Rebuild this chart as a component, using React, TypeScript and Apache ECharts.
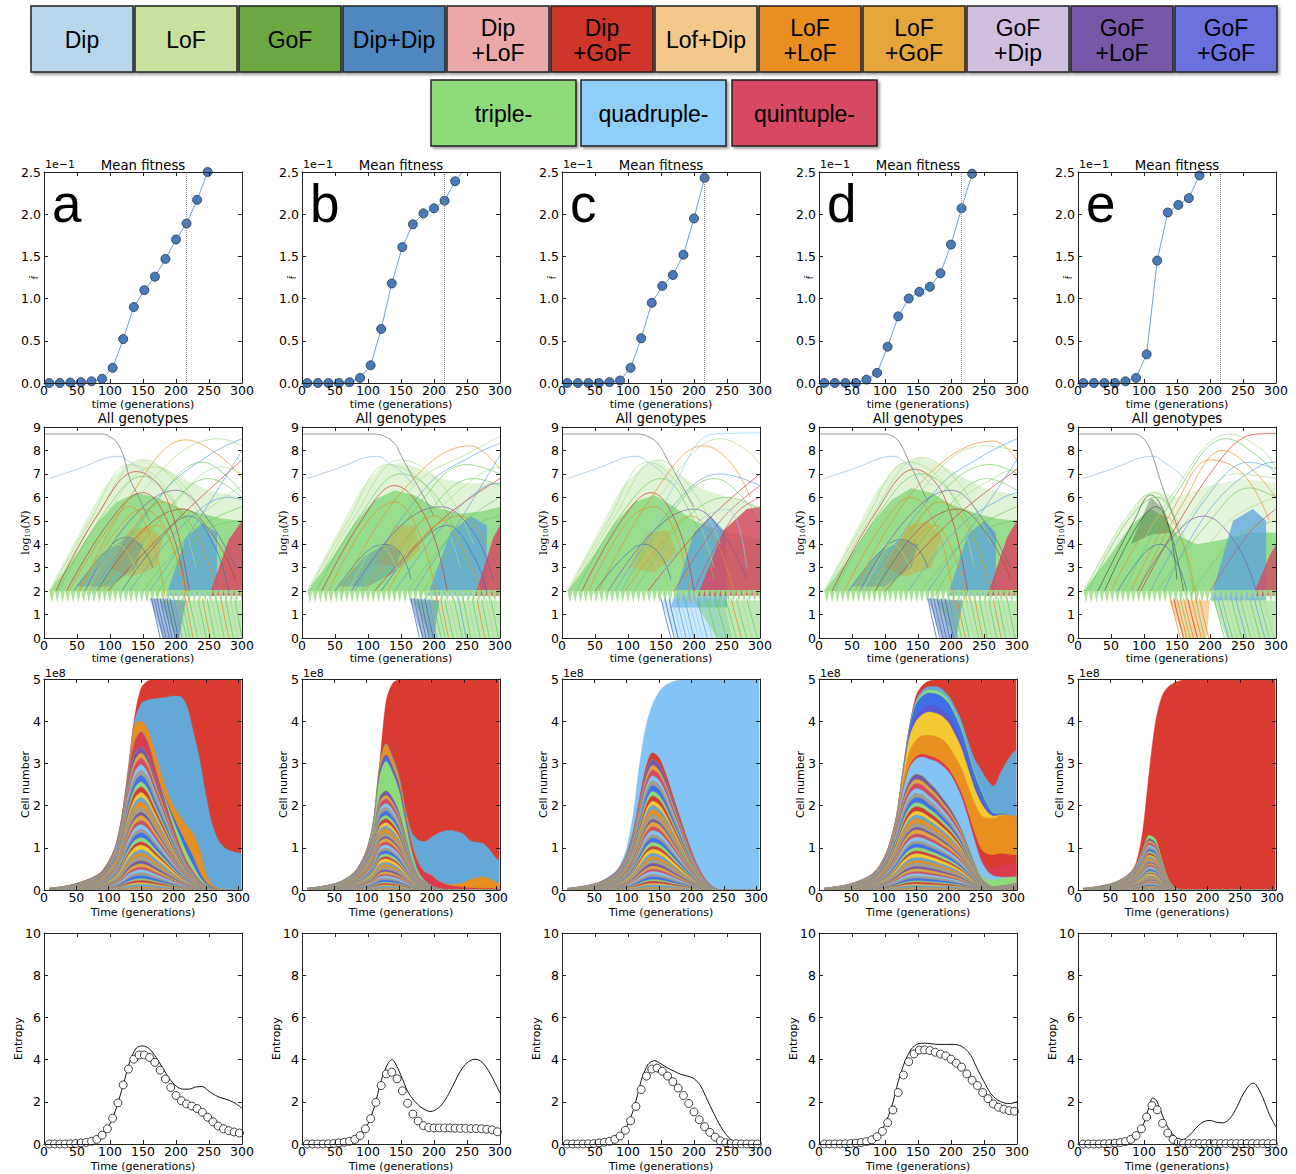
import React, { useEffect, useRef } from 'react';
import * as echarts from 'echarts';

// ---------------- legend ----------------
const LEGEND_LABELS = ['Dip', 'LoF', 'GoF', 'Dip+Dip', 'Dip\n+LoF', 'Dip\n+GoF', 'Lof+Dip', 'LoF\n+LoF', 'LoF\n+GoF', 'GoF\n+Dip', 'GoF\n+LoF', 'GoF\n+GoF', 'triple-', 'quadruple-', 'quintuple-'];
const LEGEND_COLORS = ['#b9d6ea', '#c9e19e', '#6ca843', '#5088c0', '#eaa9a8', '#d0352c', '#f3c98b', '#e98f24', '#e4a53b', '#cfc0e0', '#7758a8', '#6b71dd', '#8edb7b', '#8fcef9', '#d74a64'];

const PANEL_LETTERS = ['a', 'b', 'c', 'd', 'e'];

// ---------------- row 1 : mean fitness (x1e-1) ----------------
const FIT_T = [8, 24, 40, 56, 72, 88, 104, 120, 136, 152, 168, 184, 200, 216, 232, 248];
const FIT_A = [0, 0, 0.005, 0.01, 0.02, 0.05, 0.18, 0.52, 0.9, 1.1, 1.26, 1.47, 1.7, 1.89, 2.17, 2.5];
const FIT_B = [0, 0, 0, 0, 0.01, 0.06, 0.21, 0.64, 1.18, 1.61, 1.88, 2.01, 2.07, 2.16, 2.39, 2.55];
const FIT_C = [0, 0, 0, 0, 0.01, 0.03, 0.18, 0.53, 0.95, 1.15, 1.28, 1.52, 1.95, 2.43, 2.9];
const FIT_D = [0, 0, 0, 0, 0.04, 0.12, 0.43, 0.79, 1.0, 1.08, 1.14, 1.3, 1.64, 2.07, 2.48, 2.9];
const FIT_E = [0, 0, 0, 0, 0.02, 0.06, 0.34, 1.45, 2.02, 2.11, 2.19, 2.46, 2.8];
const FIT_MARK_T = 216;

// ---------------- row 2 : all genotypes (log10 N) ----------------
const GRAY_A = [[0, 8.7], [90, 8.7], [100, 8.58], [110, 8.36], [120, 7.8], [130, 6.8], [140, 6.2], [160, 5.0]];
const GRAY_B = [[0, 8.7], [110, 8.7], [125, 8.6], [140, 8.3], [150, 7.8], [165, 7.0], [185, 6.0], [200, 5.2]];
const GRAY_C = [[0, 8.7], [115, 8.7], [130, 8.6], [145, 8.3], [160, 7.6], [180, 6.6], [200, 5.6]];
const GRAY_D = [[0, 8.7], [100, 8.7], [115, 8.55], [125, 8.2], [135, 7.6], [150, 6.7], [165, 5.8]];
const GRAY_E = [[0, 8.7], [85, 8.7], [95, 8.6], [105, 8.3], [115, 7.6], [125, 6.7], [135, 5.9], [150, 4.8]];
const PALE_BLUE_LINE = [[8, 6.8], [60, 7.3], [100, 7.72], [115, 7.75], [130, 7.5], [150, 7.1], [170, 6.5]];

const TEETH_T = [8, 16, 24, 32, 40, 48, 56, 64, 72, 80, 88, 96, 104, 112, 120, 128, 136, 144, 152, 160, 168, 176, 184, 192, 200, 208, 216, 224, 232, 240, 248, 256, 264, 272, 280, 288, 296];
const TOOTH_TOP = 2.05;
const TOOTH_TIP = 1.5;

// [colour, alpha, polygon]
const MASS_A = [
  ['g', 0.7, [[8, 2.0], [40, 3.2], [80, 4.9], [110, 5.8], [140, 6.2], [170, 6.0], [200, 5.6], [240, 5.3], [270, 5.1], [300, 5.0], [300, 2.0]]],
  ['lg', 0.35, [[8, 2.1], [50, 4.3], [90, 6.4], [120, 7.3], [150, 7.6], [180, 7.3], [210, 6.8], [250, 6.3], [300, 6.0], [300, 5.0], [270, 5.1], [240, 5.3], [200, 5.6], [170, 6.0], [140, 6.2], [110, 5.8], [80, 4.9], [40, 3.2], [8, 2.0]]],
  ['or', 0.35, [[100, 3.0], [130, 4.6], [160, 4.8], [180, 4.2], [170, 3.0], [130, 2.6]]],
  ['db', 0.3, [[50, 2.2], [90, 3.6], [125, 4.3], [150, 4.0], [140, 3.0], [100, 2.2]]],
  ['bl', 0.75, [[185, 1.8], [215, 4.3], [240, 4.9], [262, 4.5], [262, 1.8]]],
  ['cr', 0.85, [[250, 1.8], [280, 4.2], [300, 5.0], [300, 1.8]]],
  ['g', 0.45, [[175, 1.6], [300, 1.6], [300, 0], [200, 0]]],
  ['db', 0.45, [[160, 1.7], [215, 1.6], [205, 0], [180, 0]]],
];
const MASS_B = [
  ['g', 0.7, [[8, 2.0], [40, 3.2], [80, 4.9], [110, 5.9], [140, 6.3], [170, 6.1], [200, 5.6], [240, 5.3], [270, 5.4], [300, 5.6], [300, 2.0]]],
  ['lg', 0.35, [[8, 2.1], [50, 4.3], [90, 6.4], [120, 7.3], [150, 7.5], [180, 7.2], [210, 6.8], [250, 6.6], [300, 6.6], [300, 5.6], [270, 5.4], [240, 5.3], [200, 5.6], [170, 6.1], [140, 6.3], [110, 5.9], [80, 4.9], [40, 3.2], [8, 2.0]]],
  ['or', 0.3, [[110, 3.2], [140, 4.8], [170, 4.8], [180, 3.8], [150, 3.0]]],
  ['db', 0.3, [[55, 2.2], [95, 3.5], [125, 4.0], [150, 3.7], [140, 2.8], [100, 2.2]]],
  ['bl', 0.75, [[190, 1.8], [225, 4.5], [255, 5.2], [280, 4.8], [280, 1.8]]],
  ['cr', 0.85, [[262, 1.8], [290, 4.3], [300, 4.8], [300, 1.8]]],
  ['g', 0.45, [[170, 1.6], [300, 1.6], [300, 0], [195, 0]]],
  ['db', 0.45, [[163, 1.7], [208, 1.6], [200, 0], [182, 0]]],
];
const MASS_C = [
  ['g', 0.7, [[8, 2.0], [40, 3.2], [80, 4.9], [110, 5.8], [140, 6.1], [170, 5.6], [200, 5.0], [240, 4.6], [300, 4.2], [300, 2.0]]],
  ['lg', 0.35, [[8, 2.1], [50, 4.3], [90, 6.4], [120, 7.3], [145, 7.6], [175, 7.0], [210, 6.4], [250, 6.0], [300, 5.6], [300, 4.2], [240, 4.6], [200, 5.0], [170, 5.6], [140, 6.1], [110, 5.8], [80, 4.9], [40, 3.2], [8, 2.0]]],
  ['or', 0.3, [[100, 3.0], [130, 4.5], [160, 4.6], [175, 3.6], [140, 2.8]]],
  ['bl', 0.75, [[165, 1.3], [200, 4.5], [225, 5.2], [248, 4.5], [250, 1.3]]],
  ['cr', 0.85, [[205, 1.8], [245, 4.6], [280, 5.5], [300, 5.6], [300, 1.8]]],
  ['sky', 0.45, [[150, 1.6], [245, 1.6], [258, 0], [172, 0]]],
  ['g', 0.45, [[200, 1.6], [300, 1.6], [300, 0], [235, 0]]],
];
const MASS_D = [
  ['g', 0.7, [[8, 2.0], [40, 3.2], [80, 4.9], [110, 5.9], [140, 6.4], [170, 6.2], [200, 5.7], [240, 5.3], [270, 5.1], [300, 5.0], [300, 2.0]]],
  ['lg', 0.35, [[8, 2.1], [50, 4.3], [90, 6.4], [120, 7.4], [155, 7.7], [185, 7.4], [215, 6.9], [250, 6.4], [300, 6.1], [300, 5.0], [270, 5.1], [240, 5.3], [200, 5.7], [170, 6.2], [140, 6.4], [110, 5.9], [80, 4.9], [40, 3.2], [8, 2.0]]],
  ['or', 0.35, [[100, 3.0], [135, 4.8], [165, 5.0], [185, 4.3], [170, 3.0], [130, 2.6]]],
  ['db', 0.3, [[50, 2.2], [90, 3.6], [125, 4.2], [150, 4.0], [140, 3.0], [100, 2.2]]],
  ['bl', 0.75, [[195, 1.8], [225, 4.4], [250, 5.0], [268, 4.5], [268, 1.8]]],
  ['cr', 0.85, [[255, 1.8], [285, 4.3], [300, 5.0], [300, 1.8]]],
  ['g', 0.45, [[178, 1.6], [300, 1.6], [300, 0], [205, 0]]],
  ['db', 0.45, [[165, 1.7], [218, 1.6], [208, 0], [185, 0]]],
];
const MASS_E = [
  ['g', 0.7, [[8, 2.0], [40, 3.2], [80, 4.8], [110, 5.5], [130, 5.2], [150, 4.4], [180, 4.0], [220, 4.2], [260, 4.5], [300, 4.5], [300, 2.0]]],
  ['lg', 0.3, [[8, 2.1], [60, 4.6], [100, 6.1], [120, 6.3], [150, 6.0], [200, 6.5], [250, 6.8], [300, 6.6], [300, 4.5], [260, 4.5], [220, 4.2], [180, 4.0], [150, 4.4], [130, 5.2], [110, 5.5], [80, 4.8], [40, 3.2], [8, 2.0]]],
  ['dk', 0.35, [[80, 4.0], [110, 6.0], [130, 5.5], [140, 4.5], [110, 4.4]]],
  ['bl', 0.75, [[200, 1.6], [235, 5.0], [265, 5.5], [285, 5.0], [285, 1.6]]],
  ['cr', 0.8, [[265, 1.8], [290, 3.5], [300, 4.0], [300, 1.8]]],
  ['or', 0.4, [[138, 1.6], [200, 1.6], [195, 0], [160, 0]]],
  ['g', 0.45, [[205, 1.6], [300, 1.6], [300, 0], [225, 0]]],
];

// extinction fans: [colour, t at log N = 1.7, t at log N = 0]
const FAN_A = [['db', 163, 176], ['db', 167, 181], ['db', 171, 185], ['db', 176, 190], ['db', 181, 194], ['db', 186, 199], ['db', 191, 204], ['bl', 197, 209], ['g', 203, 216], ['g', 209, 221], ['or', 214, 226], ['g', 220, 233], ['lg', 226, 240], ['g', 233, 246], ['or', 240, 252], ['g', 247, 259], ['lg', 254, 266], ['g', 261, 273], ['or', 268, 280], ['g', 275, 287], ['lg', 282, 294], ['g', 289, 300]];
const FAN_B = [['db', 165, 178], ['db', 170, 183], ['db', 175, 188], ['db', 180, 193], ['db', 186, 199], ['bl', 192, 204], ['g', 198, 211], ['g', 204, 217], ['or', 210, 222], ['g', 216, 229], ['lg', 223, 236], ['g', 230, 243], ['bl', 237, 249], ['g', 244, 256], ['lg', 251, 263], ['g', 258, 270], ['or', 265, 277], ['g', 272, 284], ['lg', 279, 291], ['g', 286, 298]];
const FAN_C = [['db', 150, 165], ['db', 156, 170], ['db', 162, 176], ['sky', 168, 182], ['bl', 174, 188], ['sky', 180, 194], ['bl', 186, 200], ['sky', 192, 207], ['sky', 198, 213], ['bl', 205, 220], ['sky', 212, 228], ['g', 219, 235], ['sky', 226, 242], ['g', 233, 249], ['lg', 240, 256], ['g', 248, 264], ['or', 256, 272], ['g', 264, 280], ['lg', 272, 288], ['g', 280, 296]];
const FAN_D = [['db', 165, 178], ['db', 169, 183], ['db', 174, 188], ['db', 179, 193], ['db', 185, 198], ['db', 191, 204], ['bl', 197, 210], ['g', 203, 216], ['or', 209, 222], ['g', 215, 228], ['lg', 222, 235], ['g', 229, 242], ['or', 236, 248], ['g', 243, 255], ['lg', 250, 262], ['g', 257, 269], ['or', 264, 276], ['g', 271, 283], ['lg', 278, 290], ['g', 285, 297]];
const FAN_E = [['or', 140, 155], ['dred', 145, 160], ['or', 150, 165], ['g', 155, 170], ['or', 160, 175], ['dred', 166, 181], ['or', 172, 187], ['g', 178, 192], ['or', 184, 198], ['g', 206, 222], ['bl', 212, 228], ['g', 218, 234], ['lg', 225, 241], ['g', 232, 248], ['bl', 239, 255], ['g', 246, 262], ['lg', 253, 269], ['g', 260, 276], ['bl', 267, 283], ['g', 274, 290], ['lg', 281, 297]];

// [colour, t0, v0, t1, v1, ...]
const ARCS_A = [
  ['lg', 10, 2, 70, 5.0, 130, 7.4, 190, 6.2, 230, 3],
  ['lg', 14, 2, 80, 5.2, 150, 7.6, 210, 6.3, 260, 4],
  ['red', 18, 2, 80, 5.2, 140, 7.1, 185, 6.0, 220, 2],
  ['g', 22, 2, 90, 5.3, 150, 6.9, 200, 5.6, 240, 3],
  ['lg', 28, 2, 100, 5.5, 165, 7.3, 220, 6.2, 260, 4],
  ['red', 34, 2, 100, 5.0, 150, 6.2, 190, 4.8, 215, 2],
  ['or', 38, 2, 90, 4.4, 130, 5.6, 165, 4.0, 185, 1.5],
  ['db', 45, 2, 90, 3.6, 125, 4.3, 150, 3.8, 165, 3.0],
  ['or', 52, 2, 110, 4.6, 150, 5.5, 190, 4.3, 215, 1.5],
  ['or', 55, 2, 130, 6.0, 215, 8.45, 265, 7.8, 300, 6.8],
  ['pu', 62, 2, 130, 5.0, 200, 6.3, 250, 5.0, 290, 3],
  ['lg', 66, 2, 160, 6.6, 265, 8.5, 300, 8.2],
  ['bl', 74, 2, 180, 6.2, 250, 7.8, 300, 8.5],
  ['g', 84, 2, 170, 5.8, 240, 7.5, 300, 6.2],
  ['red', 96, 2, 200, 5.0, 300, 7.6],
  ['or', 70, 2, 130, 4.5, 180, 5.8, 230, 4.5, 260, 2],
  ['dred', 80, 2, 150, 4.6, 210, 5.5, 260, 4.2, 290, 2.5],
  ['g', 100, 2, 180, 5.2, 250, 6.8, 300, 6],
  ['lg', 112, 2, 190, 5.4, 270, 7.3, 300, 7],
  ['bl', 130, 2, 210, 4.8, 280, 6.0, 300, 5.9],
  ['g', 150, 2, 230, 4.6, 300, 5.6],
  ['db', 118, 2, 170, 4.0, 220, 5.2, 260, 3.8, 280, 2],
  ['lg', 40, 2, 80, 3.6, 110, 4.0, 135, 3.2, 150, 2],
  ['or', 90, 2, 130, 3.8, 170, 4.8, 200, 3.5, 220, 1.5],
  ['lg', 140, 2, 220, 4.8, 300, 6.5],
  ['bl', 160, 2, 240, 5.3, 300, 8.0],
  ['g', 170, 1.8, 240, 4.5, 300, 5.0],
];
const ARCS_B = [
  ['lg', 10, 2, 70, 5.0, 130, 7.4, 190, 6.4, 240, 3],
  ['lg', 16, 2, 80, 5.2, 150, 7.6, 210, 6.6, 260, 4],
  ['g', 22, 2, 90, 5.3, 150, 7.0, 210, 5.8, 250, 3],
  ['red', 30, 2, 90, 5.0, 140, 6.5, 190, 5.0, 220, 2],
  ['or', 40, 2, 100, 5.0, 140, 5.8, 180, 4.3, 205, 1.5],
  ['db', 50, 2, 95, 3.6, 125, 4.0, 150, 3.6, 165, 2.5],
  ['or', 60, 2, 150, 6.2, 255, 8.2, 300, 7.2],
  ['lg', 70, 2, 170, 6.5, 260, 8.0, 300, 8.6],
  ['bl', 80, 2, 190, 6.5, 260, 7.8, 300, 8.3],
  ['g', 90, 2, 180, 5.8, 250, 7.4, 300, 7.0],
  ['pu', 75, 2, 150, 4.8, 210, 5.6, 260, 4.5, 290, 2.5],
  ['red', 110, 2, 210, 5.0, 300, 6.8],
  ['or', 95, 2, 150, 4.0, 200, 5.2, 240, 4.0, 270, 2],
  ['g', 110, 2, 190, 5.3, 260, 6.8, 300, 6.5],
  ['lg', 125, 2, 200, 5.2, 270, 7.0, 300, 7.3],
  ['bl', 140, 2, 220, 5.0, 280, 6.5, 300, 6.6],
  ['g', 160, 2, 240, 4.8, 300, 6.0],
  ['db', 120, 2, 170, 3.8, 220, 4.8, 260, 3.5, 280, 2],
  ['lg', 45, 2, 85, 3.6, 115, 4.0, 140, 3.2, 155, 2],
  ['bl', 170, 2, 250, 5.5, 300, 7.8],
  ['g', 180, 1.8, 250, 4.6, 300, 5.2],
  ['or', 130, 2, 190, 4.5, 240, 5.2, 280, 4.0],
];
const ARCS_C = [
  ['lg', 10, 2, 70, 5.0, 130, 7.5, 190, 6.0, 230, 3],
  ['lg', 15, 2, 80, 5.2, 145, 7.6, 200, 6.2, 240, 4],
  ['g', 22, 2, 90, 5.3, 150, 6.8, 200, 5.0, 230, 2.5],
  ['red', 30, 2, 90, 5.0, 135, 6.2, 175, 4.8, 200, 2],
  ['or', 40, 2, 100, 5.0, 140, 5.6, 175, 4.2, 195, 1.5],
  ['or', 55, 2, 140, 6.2, 215, 8.2, 255, 7.5, 285, 6],
  ['lg', 65, 2, 160, 6.5, 240, 8.5, 280, 8.0, 300, 7.4],
  ['sky', 90, 2, 170, 6.5, 230, 8.7, 300, 8.75],
  ['bl', 80, 2, 180, 6.0, 240, 7.0, 300, 6.5],
  ['g', 90, 2, 170, 5.5, 230, 6.8, 290, 5.5, 300, 5],
  ['pu', 70, 2, 140, 4.6, 200, 5.5, 250, 4.2, 280, 2.5],
  ['red', 130, 2, 220, 5.0, 300, 7.0],
  ['or', 95, 2, 150, 4.0, 195, 5.2, 235, 4.0, 260, 2],
  ['cr', 170, 2, 240, 5.0, 300, 6.5],
  ['g', 110, 2, 185, 5.0, 250, 6.0, 300, 5.5],
  ['db', 50, 2, 95, 3.5, 125, 4.0, 150, 3.5, 165, 2.5],
  ['lg', 45, 2, 85, 3.6, 115, 4.0, 140, 3.2, 155, 2],
  ['sky', 140, 2, 200, 4.8, 250, 5.5, 280, 3],
  ['cr', 200, 2, 260, 5.2, 300, 6.0],
];
const ARCS_D = [
  ['lg', 10, 2, 70, 5.0, 135, 7.5, 195, 6.4, 235, 3],
  ['lg', 15, 2, 80, 5.2, 155, 7.7, 215, 6.5, 260, 4],
  ['red', 20, 2, 85, 5.3, 145, 7.2, 190, 6.0, 225, 2],
  ['g', 24, 2, 90, 5.3, 155, 7.0, 210, 5.8, 250, 3],
  ['or', 38, 2, 95, 4.8, 140, 6.0, 180, 4.6, 205, 1.5],
  ['db', 45, 2, 90, 3.6, 125, 4.2, 150, 3.8, 165, 3.0],
  ['or', 55, 2, 150, 6.5, 265, 8.4, 300, 7.6],
  ['bl', 70, 2, 180, 6.4, 250, 7.8, 300, 8.5],
  ['lg', 66, 2, 170, 6.8, 250, 8.2, 300, 8.0],
  ['g', 85, 2, 180, 6.0, 260, 7.4, 300, 7.0],
  ['pu', 62, 2, 130, 5.0, 200, 6.3, 250, 5.0, 290, 3],
  ['red', 100, 2, 200, 5.0, 300, 7.2],
  ['or', 75, 2, 135, 4.5, 185, 5.8, 230, 4.5, 260, 2],
  ['dred', 85, 2, 150, 4.6, 210, 5.5, 260, 4.2, 290, 2.5],
  ['g', 105, 2, 185, 5.2, 255, 6.8, 300, 6.3],
  ['lg', 115, 2, 195, 5.4, 275, 7.0, 300, 7.2],
  ['bl', 135, 2, 215, 4.8, 280, 6.0, 300, 6.2],
  ['g', 155, 2, 235, 4.6, 300, 5.6],
  ['lg', 40, 2, 80, 3.6, 110, 4.0, 135, 3.2, 150, 2],
  ['or', 95, 2, 135, 3.8, 175, 4.8, 205, 3.5, 225, 1.5],
  ['bl', 165, 2, 245, 5.3, 300, 7.6],
  ['g', 175, 1.8, 245, 4.5, 300, 5.0],
];
const ARCS_E = [
  ['lg', 10, 2, 70, 5.0, 115, 6.2, 150, 5.0, 180, 2.5],
  ['g', 16, 2, 75, 5.0, 120, 6.0, 150, 4.8, 175, 2],
  ['dk', 30, 2, 85, 5.0, 110, 6.1, 135, 5.0, 150, 2.5],
  ['dk', 40, 2, 90, 4.8, 118, 5.6, 140, 4.5, 160, 2],
  ['or', 50, 2, 100, 4.5, 130, 5.2, 160, 4.0, 180, 1.5],
  ['lg', 60, 2, 140, 6.0, 230, 8.7, 280, 8.0, 300, 7.2],
  ['g', 70, 2, 150, 6.2, 225, 8.5, 270, 7.8, 300, 7.0],
  ['or', 80, 2, 150, 5.8, 200, 7.6, 250, 7.0, 290, 5],
  ['or', 90, 2, 160, 5.8, 220, 8.0, 260, 7.3, 300, 6],
  ['red', 95, 2, 200, 7.0, 270, 8.7, 300, 8.72],
  ['bl', 110, 2, 190, 5.8, 260, 7.5, 300, 7.2],
  ['bl', 130, 2, 200, 5.5, 280, 7.4, 300, 7.5],
  ['lg', 100, 2, 170, 5.2, 240, 7.0, 300, 6.8],
  ['g', 120, 2, 200, 5.0, 260, 6.4, 300, 6.0],
  ['pu', 90, 2, 140, 4.2, 190, 5.2, 240, 4.0, 270, 2],
  ['db', 60, 2, 100, 3.6, 125, 4.0, 150, 3.2, 165, 2],
  ['lg', 150, 2, 230, 5.0, 300, 6.0],
  ['cr', 200, 2, 260, 4.5, 300, 5.5],
  ['g', 170, 1.8, 240, 4.3, 300, 5.0],
];

const LINE_COLORS = {
  lg: '#a9dc8a', g: '#6ccd5e', red: '#d0332b', dred: '#b5402f', or: '#e8901f', db: '#3f6db5',
  bl: '#5aa3dd', sky: '#8fcdf8', pu: '#7757a7', cr: '#d64a63', dk: '#3c5638', tooth: '#9fe08a',
};

// ---------------- row 3 : cell number (x1e8), bands listed bottom to top ----------------
const T3 = [8, 20, 40, 60, 80, 90, 100, 110, 120, 130, 140, 150, 160, 170, 180, 190, 200, 210, 220, 230, 240, 250, 260, 270, 280, 290, 300, 305];

const STRIPE_COLORS = ['#a39e8f', '#e8901f', '#64a8d7', '#f5c932', '#d73a2f', '#8ddb7a', '#3d72f0', '#a39e8f', '#84c4f5', '#d64a63', '#e3a43a', '#7757a7'];
const STRIPE_SHARES = [1, 1, 1.5, 1, 1.5, 1, 2, 1.5, 2, 1.5, 2, 2, 2.5, 2, 2, 3, 2, 2.5, 3, 2, 3, 2.5, 3, 2, 3, 3.5, 2.5, 3, 3.5, 3, 4, 3, 3.5, 4, 3, 4];

const A3_TOTAL = [0.04, 0.06, 0.11, 0.2, 0.33, 0.45, 0.68, 1.02, 1.72, 2.85, 4.1, 4.78, 4.95, 4.99, 5, 5, 5, 5, 5, 5, 5, 5, 5, 5, 5, 5, 5, 5];
const A3_CLONES = [0.04, 0.06, 0.11, 0.2, 0.33, 0.45, 0.68, 1.0, 1.65, 2.6, 3.2, 3.4, 3.2, 2.75, 2.3, 1.85, 1.4, 1.0, 0.65, 0.42, 0.22, 0.1, 0.04, 0.015, 0.005, 0, 0, 0];
const A3_QUINT = [0, 0, 0, 0, 0, 0, 0, 0, 0.03, 0.12, 0.3, 0.35, 0.32, 0.25, 0.15, 0.1, 0.08, 0.06, 0.05, 0.03, 0.02, 0.01, 0, 0, 0, 0, 0, 0];
const A3_TRIPLE = [0, 0, 0, 0, 0, 0, 0, 0, 0, 0, 0, 0, 0, 0, 0.05, 0.1, 0.15, 0.2, 0.2, 0.15, 0.08, 0.03, 0.01, 0, 0, 0, 0, 0];
const A3_GOFGOF = [0, 0, 0, 0, 0, 0, 0, 0, 0, 0, 0, 0, 0, 0, 0, 0.05, 0.1, 0.15, 0.2, 0.2, 0.12, 0.05, 0.02, 0, 0, 0, 0, 0];
const A3_LOFLOF = [0, 0, 0, 0, 0, 0, 0, 0, 0.02, 0.1, 0.42, 0.25, 0.28, 0.35, 0.3, 0.24, 0.26, 0.34, 0.43, 0.54, 0.54, 0.21, 0.05, 0.025, 0.015, 0.01, 0, 0];
const A3_DIPDIP = [0, 0, 0, 0, 0, 0, 0, 0, 0, 0.02, 0.08, 0.41, 0.7, 1.18, 1.75, 2.23, 2.61, 2.84, 2.86, 2.46, 2.15, 1.86, 1.43, 1.12, 0.97, 0.91, 0.88, 0.87];

const B3_TOTAL = [0.04, 0.06, 0.11, 0.2, 0.4, 0.62, 0.95, 1.6, 3.0, 4.47, 4.9, 4.98, 5, 5, 5, 5, 5, 5, 5, 5, 5, 5, 5, 5, 5, 5, 5, 5];
const B3_CLONES = [0.04, 0.06, 0.11, 0.2, 0.4, 0.62, 0.9, 1.35, 2.2, 2.35, 2.18, 1.85, 1.28, 0.7, 0.34, 0.19, 0.09, 0.04, 0.01, 0, 0, 0, 0, 0, 0, 0, 0, 0];
const B3_TRIPLE = [0, 0, 0, 0, 0, 0, 0.05, 0.2, 0.5, 0.7, 0.6, 0.5, 0.33, 0.18, 0.08, 0.03, 0.01, 0, 0, 0, 0, 0, 0, 0, 0, 0, 0, 0];
const B3_GOFGOF = [0, 0, 0, 0, 0, 0, 0, 0, 0.1, 0.15, 0.12, 0.1, 0.06, 0.03, 0.01, 0, 0, 0, 0, 0, 0, 0, 0, 0, 0, 0, 0, 0];
const B3_QUINT = [0, 0, 0, 0, 0, 0, 0, 0, 0, 0, 0, 0.03, 0.08, 0.15, 0.2, 0.2, 0.25, 0.18, 0.14, 0.1, 0.08, 0.06, 0.05, 0.04, 0.04, 0.04, 0.03, 0.03];
const B3_LOFLOF = [0, 0, 0, 0, 0, 0, 0, 0.05, 0.15, 0.25, 0.2, 0.15, 0.08, 0.04, 0.02, 0, 0, 0, 0, 0.03, 0.06, 0.12, 0.2, 0.25, 0.27, 0.22, 0.15, 0.12];
const B3_DIPDIP = [0, 0, 0, 0, 0, 0, 0, 0, 0, 0.02, 0.05, 0.07, 0.07, 0.25, 0.53, 0.73, 0.9, 1.12, 1.25, 1.28, 1.24, 1.14, 0.92, 0.84, 0.79, 0.69, 0.57, 0.53];

const C3_TOTAL = [0.04, 0.06, 0.11, 0.2, 0.4, 0.6, 1.0, 1.8, 3.0, 3.9, 4.4, 4.7, 4.85, 4.93, 4.97, 5, 5, 5, 5, 5, 5, 5, 5, 5, 5, 5, 5, 5];
const C3_CLONES = [0.04, 0.06, 0.11, 0.2, 0.38, 0.55, 0.85, 1.35, 2.1, 2.8, 3.1, 2.98, 2.65, 2.2, 1.75, 1.3, 0.88, 0.52, 0.26, 0.09, 0.015, 0, 0, 0, 0, 0, 0, 0];
const C3_DIPGOF = [0, 0, 0, 0, 0, 0, 0, 0.03, 0.08, 0.12, 0.15, 0.15, 0.12, 0.1, 0.08, 0.06, 0.05, 0.04, 0.03, 0.02, 0.005, 0, 0, 0, 0, 0, 0, 0];

const D3_TOTAL = [0.04, 0.06, 0.11, 0.2, 0.35, 0.5, 0.75, 1.15, 1.8, 2.9, 3.9, 4.6, 4.85, 4.95, 4.99, 5, 5, 5, 5, 5, 5, 5, 5, 5, 5, 5, 5, 5];
const D3_CLONES = [0.04, 0.06, 0.11, 0.2, 0.35, 0.5, 0.74, 1.1, 1.6, 2.2, 2.6, 2.75, 2.7, 2.55, 2.4, 2.2, 2.0, 1.75, 1.45, 1.05, 0.65, 0.3, 0.15, 0.08, 0.1, 0.12, 0.15, 0.15];
const D3_TRIPLE = [0, 0, 0, 0, 0, 0, 0, 0, 0, 0, 0, 0, 0, 0, 0, 0, 0, 0, 0, 0.02, 0.04, 0.06, 0.1, 0.15, 0.17, 0.17, 0.16, 0.16];
const D3_QUAD = [0, 0, 0, 0, 0, 0, 0, 0.02, 0.08, 0.2, 0.3, 0.35, 0.45, 0.55, 0.65, 0.75, 0.8, 0.8, 0.75, 0.65, 0.5, 0.35, 0.2, 0.1, 0.04, 0.01, 0, 0];
const D3_QUINT = [0, 0, 0, 0, 0, 0, 0, 0, 0, 0, 0.03, 0.05, 0.06, 0.07, 0.07, 0.07, 0.07, 0.07, 0.08, 0.09, 0.1, 0.12, 0.15, 0.2, 0.25, 0.29, 0.32, 0.32];
const D3_DIPGOF2 = [0, 0, 0, 0, 0, 0, 0, 0, 0, 0, 0, 0, 0, 0, 0, 0, 0, 0, 0.02, 0.04, 0.08, 0.15, 0.25, 0.3, 0.3, 0.26, 0.2, 0.2];
const D3_LOFLOF = [0, 0, 0, 0, 0, 0, 0, 0, 0.05, 0.2, 0.35, 0.4, 0.45, 0.5, 0.52, 0.55, 0.55, 0.55, 0.58, 0.62, 0.7, 0.8, 0.85, 0.87, 0.9, 0.92, 0.93, 0.93];
const D3_YELLOW = [0, 0, 0, 0, 0, 0, 0, 0, 0.03, 0.15, 0.35, 0.45, 0.5, 0.55, 0.55, 0.55, 0.55, 0.52, 0.48, 0.42, 0.35, 0.3, 0.15, 0.05, 0.02, 0.01, 0, 0];
const D3_INDIGO = [0, 0, 0, 0, 0, 0, 0, 0, 0, 0.03, 0.08, 0.12, 0.14, 0.15, 0.16, 0.16, 0.16, 0.15, 0.14, 0.12, 0.1, 0.08, 0.05, 0.02, 0.01, 0, 0, 0];
const D3_GOFGOF = [0, 0, 0, 0, 0, 0, 0, 0, 0, 0.05, 0.15, 0.28, 0.3, 0.3, 0.3, 0.3, 0.3, 0.3, 0.28, 0.26, 0.23, 0.2, 0.12, 0.05, 0.02, 0.01, 0, 0];
const D3_GREEN2 = [0, 0, 0, 0, 0, 0, 0, 0, 0, 0, 0, 0.05, 0.06, 0.07, 0.08, 0.08, 0.08, 0.08, 0.08, 0.07, 0.06, 0.05, 0.03, 0.01, 0, 0, 0, 0];
const D3_DIPDIP = [0, 0, 0, 0, 0, 0, 0, 0, 0, 0, 0.03, 0.05, 0.07, 0.08, 0.09, 0.1, 0.1, 0.12, 0.15, 0.2, 0.3, 0.45, 0.55, 0.63, 0.95, 1.25, 1.5, 1.55];

const E3_TOTAL = [0.04, 0.06, 0.11, 0.2, 0.4, 0.65, 1.4, 2.8, 4.0, 4.6, 4.82, 4.92, 4.97, 5, 5, 5, 5, 5, 5, 5, 5, 5, 5, 5, 5, 5, 5, 5];
const E3_CLONES = [0.04, 0.06, 0.11, 0.2, 0.38, 0.6, 0.92, 1.22, 1.12, 0.65, 0.23, 0.05, 0.01, 0, 0, 0, 0, 0, 0, 0, 0, 0, 0, 0, 0, 0, 0, 0];
const E3_TRIPLE = [0, 0, 0, 0, 0, 0, 0.03, 0.08, 0.08, 0.05, 0.02, 0, 0, 0, 0, 0, 0, 0, 0, 0, 0, 0, 0, 0, 0, 0, 0, 0];

const BAND_COLORS = {
  quint: '#dc3b4f', triple: '#8ddb7a', gofgof: '#3f6fe6', loflof: '#e8901f', dipdip: '#64a8d7',
  dipgof: '#d93b30', quad: '#84c4f5', yellow: '#f5c932', indigo: '#5a5ad0',
};

// ---------------- row 4 : entropy ----------------
const ENT_LINE_A = [[0, 0], [40, 0.02], [60, 0.08], [70, 0.15], [80, 0.25], [90, 0.45], [100, 0.95], [110, 1.75], [120, 2.8], [130, 3.9], [140, 4.55], [150, 4.65], [160, 4.5], [170, 4.1], [180, 3.6], [190, 3.1], [200, 2.75], [210, 2.6], [220, 2.6], [230, 2.7], [240, 2.72], [250, 2.5], [260, 2.3], [270, 2.17], [280, 2.08], [290, 1.92], [300, 1.69]];
const ENT_LINE_B = [[0, 0], [40, 0.02], [60, 0.08], [70, 0.15], [80, 0.25], [90, 0.45], [100, 0.95], [110, 1.8], [120, 3.0], [130, 3.8], [136, 4.0], [140, 3.9], [150, 3.25], [160, 2.5], [170, 2.05], [180, 1.75], [190, 1.57], [195, 1.54], [200, 1.58], [210, 1.8], [220, 2.25], [230, 2.85], [240, 3.45], [250, 3.85], [262, 4.02], [270, 3.95], [280, 3.6], [290, 3.05], [300, 2.42]];
const ENT_LINE_C = [[0, 0], [40, 0.02], [60, 0.08], [70, 0.15], [80, 0.25], [90, 0.45], [100, 0.95], [110, 1.8], [120, 3.0], [130, 3.75], [140, 3.95], [150, 3.8], [160, 3.6], [170, 3.45], [180, 3.3], [190, 3.22], [200, 3.1], [210, 2.75], [220, 2.1], [230, 1.45], [240, 0.85], [250, 0.4], [260, 0.1], [270, 0], [300, 0]];
const ENT_LINE_D = [[0, 0], [40, 0.02], [60, 0.08], [70, 0.15], [80, 0.25], [90, 0.45], [100, 0.95], [110, 1.75], [120, 2.95], [130, 3.9], [140, 4.5], [150, 4.75], [160, 4.78], [170, 4.75], [180, 4.72], [190, 4.72], [200, 4.72], [210, 4.7], [220, 4.55], [230, 4.2], [240, 3.55], [250, 2.95], [260, 2.4], [270, 2.1], [280, 1.95], [290, 1.92], [300, 2.0]];
const ENT_LINE_E = [[0, 0], [40, 0.02], [60, 0.08], [70, 0.14], [80, 0.25], [90, 0.5], [100, 1.0], [108, 1.8], [113, 2.18], [118, 2.1], [125, 1.6], [130, 1.2], [140, 0.6], [150, 0.28], [158, 0.2], [170, 0.45], [180, 0.8], [190, 1.05], [200, 1.12], [210, 1.03], [220, 1.0], [230, 1.2], [240, 1.7], [250, 2.35], [260, 2.8], [265, 2.88], [270, 2.8], [280, 2.2], [290, 1.4], [300, 0.8]];

const ENT_DOT_T = [8, 16, 24, 32, 40, 48, 56, 64, 72, 80, 88, 96, 104, 112, 120, 128, 136, 144, 152, 160, 168, 176, 184, 192, 200, 208, 216, 224, 232, 240, 248, 256, 264, 272, 280, 288, 296];
const ENT_DOT_A = [0, 0, 0, 0, 0.01, 0.02, 0.05, 0.08, 0.13, 0.22, 0.42, 0.72, 1.22, 1.95, 2.8, 3.55, 4.02, 4.22, 4.22, 4.1, 3.87, 3.5, 3.08, 2.68, 2.3, 2.05, 1.9, 1.8, 1.68, 1.5, 1.27, 1.05, 0.85, 0.72, 0.63, 0.57, 0.52];
const ENT_DOT_B = [0, 0, 0, 0, 0.01, 0.02, 0.05, 0.08, 0.13, 0.22, 0.4, 0.72, 1.2, 1.97, 2.77, 3.32, 3.4, 3.09, 2.52, 1.93, 1.42, 1.09, 0.87, 0.78, 0.76, 0.76, 0.76, 0.76, 0.75, 0.74, 0.74, 0.73, 0.73, 0.72, 0.7, 0.67, 0.58];
const ENT_DOT_C = [0, 0, 0, 0, 0.01, 0.02, 0.05, 0.08, 0.13, 0.22, 0.38, 0.65, 1.1, 1.78, 2.58, 3.22, 3.55, 3.6, 3.45, 3.22, 2.95, 2.65, 2.3, 1.92, 1.52, 1.15, 0.82, 0.55, 0.33, 0.15, 0.06, 0.02, 0.01, 0, 0, 0, 0];
const ENT_DOT_D = [0, 0, 0, 0, 0.01, 0.02, 0.04, 0.07, 0.12, 0.2, 0.35, 0.6, 1.01, 1.61, 2.44, 3.27, 3.9, 4.27, 4.45, 4.46, 4.43, 4.35, 4.26, 4.18, 4.02, 3.83, 3.64, 3.32, 3.02, 2.77, 2.44, 2.15, 1.9, 1.74, 1.65, 1.58, 1.55];
const ENT_DOT_E = [0, 0, 0, 0, 0.01, 0.02, 0.04, 0.07, 0.12, 0.22, 0.4, 0.72, 1.28, 1.82, 1.62, 0.98, 0.52, 0.22, 0.08, 0.03, 0.02, 0.02, 0.02, 0.02, 0.02, 0.02, 0.02, 0.02, 0.02, 0.02, 0.02, 0.02, 0.02, 0.02, 0.02, 0.02, 0.02];

// ---------------- layout (not data) ----------------
const COL_LEFT = [44, 302, 562, 819, 1078];
const ROW_TOP = [172, 427, 679, 933];
const GW = 198;
const GH = 211;
const FONT = 'DejaVu Sans';
const TICK_SIZE = 12.5;
const NAME_SIZE = 11;

function buildOption() {
  const grids: any[] = [];
  const xAxes: any[] = [];
  const yAxes: any[] = [];
  const series: any[] = [];
  const graphics: any[] = [];

  const rows = [
    { yMin: 0, yMax: 2.5, yInt: 0.5, xMax: 300, dec: 1, xName: 'time (generations)', xNameY: 404, yNameX: 35 },
    { yMin: 0, yMax: 9, yInt: 1, xMax: 300, dec: 0, xName: 'time (generations)', xNameY: 658, yNameX: 25 },
    { yMin: 0, yMax: 5, yInt: 1, xMax: 306, dec: 0, xName: 'Time (generations)', xNameY: 912, yNameX: 25 },
    { yMin: 0, yMax: 10, yInt: 2, xMax: 300, dec: 0, xName: 'Time (generations)', xNameY: 1166, yNameX: 18 },
  ];
  const axisLine = { show: true, onZero: false, lineStyle: { color: '#222', width: 1 } };
  const axisTick = { show: true, inside: true, length: 4, lineStyle: { color: '#222', width: 1 } };

  for (let r = 0; r < 4; r++) {
    const R = rows[r];
    for (let c = 0; c < 5; c++) {
      const g = r * 5 + c;
      grids.push({ left: COL_LEFT[c], top: ROW_TOP[r], width: GW, height: GH, containLabel: false });
      xAxes.push({
        type: 'value', gridIndex: g, min: 0, max: R.xMax, interval: 50, position: 'bottom', z: 10,
        axisLine, axisTick, splitLine: { show: false },
        axisLabel: { show: true, margin: 1, fontSize: TICK_SIZE, fontFamily: FONT, color: '#000', formatter: (v: number) => (v % 50 === 0 ? String(v) : '') },
      });
      xAxes.push({
        type: 'value', gridIndex: g, min: 0, max: R.xMax, interval: 50, position: 'top', z: 10,
        axisLine, axisTick, splitLine: { show: false }, axisLabel: { show: false },
      });
      yAxes.push({
        type: 'value', gridIndex: g, min: R.yMin, max: R.yMax, interval: R.yInt, position: 'left', z: 10,
        axisLine, axisTick, splitLine: { show: false },
        axisLabel: { show: true, margin: 3, fontSize: TICK_SIZE, fontFamily: FONT, color: '#000', formatter: (v: number) => v.toFixed(R.dec) },
      });
      yAxes.push({
        type: 'value', gridIndex: g, min: R.yMin, max: R.yMax, interval: R.yInt, position: 'right', z: 10,
        axisLine, axisTick, splitLine: { show: false }, axisLabel: { show: false },
      });

      // axis titles as positioned texts
      const cx = COL_LEFT[c] + GW / 2;
      const cy = ROW_TOP[r] + GH / 2;
      graphics.push({ type: 'text', z: 5, x: cx, y: R.xNameY, style: { text: R.xName, align: 'center', verticalAlign: 'middle', fontSize: NAME_SIZE, fontFamily: FONT, fill: '#000' } });
      const yStyle: any = { align: 'center', verticalAlign: 'middle', fill: '#000' };
      if (r === 0) { yStyle.text = 'f\u0304'; yStyle.fontSize = 8; yStyle.fontFamily = FONT; }
      if (r === 1) {
        yStyle.text = '{n|log}{s|10}{n|(}{i|N}{n|)}';
        yStyle.fontSize = 11; yStyle.fontFamily = 'DejaVu Serif';
        yStyle.rich = {
          n: { fontFamily: 'DejaVu Serif', fontSize: 11, fill: '#000' },
          s: { fontFamily: 'DejaVu Serif', fontSize: 7, fill: '#000', padding: [6, 0, 0, 0] },
          i: { fontFamily: 'DejaVu Serif', fontStyle: 'italic', fontSize: 11, fill: '#000' },
        };
      }
      if (r === 2) { yStyle.text = 'Cell number'; yStyle.fontSize = NAME_SIZE; yStyle.fontFamily = FONT; }
      if (r === 3) { yStyle.text = 'Entropy'; yStyle.fontSize = NAME_SIZE; yStyle.fontFamily = FONT; }
      graphics.push({ type: 'text', z: 5, x: COL_LEFT[c] - (44 - R.yNameX), y: cy, rotation: Math.PI / 2, style: yStyle });
    }
  }

  const xi = (g: number) => 2 * g;
  const yi = (g: number) => 2 * g;

  // ---- row 1
  const fits = [FIT_A, FIT_B, FIT_C, FIT_D, FIT_E];
  fits.forEach((vals, c) => {
    const g = c;
    series.push({
      type: 'line', xAxisIndex: xi(g), yAxisIndex: yi(g), silent: true, z: 3, clip: true,
      data: vals.map((v, i) => [FIT_T[i], v]),
      symbol: 'circle', symbolSize: 9, showSymbol: true,
      itemStyle: { color: '#4a7ab8', borderColor: '#1f3550', borderWidth: 0.8 },
      lineStyle: { color: '#6e9fd6', width: 1 },
      markLine: { silent: true, symbol: 'none', label: { show: false }, lineStyle: { type: 'dotted', color: '#888', width: 1 }, data: [{ xAxis: FIT_MARK_T }] },
    });
  });

  // ---- row 2
  const polySeries = (g: number, pts: number[][], color: string, opacity: number, z: number) => ({
    type: 'custom', xAxisIndex: xi(g), yAxisIndex: yi(g), silent: true, z, clip: true,
    data: [[pts[0][0], pts[0][1]]],
    renderItem: (_p: any, api: any) => ({
      type: 'polygon',
      shape: { points: pts.map((p) => api.coord(p)) },
      style: { fill: color, opacity },
    }),
  });
  const lineSeries = (g: number, pts: number[][], color: string, width: number, opacity: number, z: number, smooth: number) => ({
    type: 'line', xAxisIndex: xi(g), yAxisIndex: yi(g), silent: true, z,
    data: pts, smooth, symbol: 'none', showSymbol: false,
    lineStyle: { color, width, opacity },
  });
  const masses = [MASS_A, MASS_B, MASS_C, MASS_D, MASS_E];
  const arcs = [ARCS_A, ARCS_B, ARCS_C, ARCS_D, ARCS_E];
  const fans = [FAN_A, FAN_B, FAN_C, FAN_D, FAN_E];
  const grays = [GRAY_A, GRAY_B, GRAY_C, GRAY_D, GRAY_E];
  const teethPts: number[][] = [[TEETH_T[0], TOOTH_TOP]];
  TEETH_T.forEach((t) => { teethPts.push([t + 4, TOOTH_TIP]); teethPts.push([t + 8, TOOTH_TOP]); });
  for (let c = 0; c < 5; c++) {
    const g = 5 + c;
    masses[c].forEach((m: any) => series.push(polySeries(g, m[2], LINE_COLORS[m[0]], m[1], 1)));
    series.push(polySeries(g, teethPts, LINE_COLORS.tooth, 0.9, 2));
    fans[c].forEach((f: any) => {
      series.push(lineSeries(g, [[f[1], 1.7], [(f[1] * 2 + f[2]) / 3, 1.1], [f[2], 0]], LINE_COLORS[f[0]], 0.9, 0.9, 2, 0.3));
    });
    arcs[c].forEach((a: any) => {
      const pts: number[][] = [];
      for (let k = 1; k + 1 < a.length; k += 2) pts.push([a[k], a[k + 1]]);
      series.push(lineSeries(g, pts, LINE_COLORS[a[0]], 0.8, 0.85, 3, 0.4));
    });
    series.push(lineSeries(g, PALE_BLUE_LINE, '#aac8e4', 0.9, 1, 4, 0.4));
    series.push(lineSeries(g, grays[c], '#8a8a8a', 0.9, 1, 4, 0.4));
  }

  // ---- row 3 (cumulative tops drawn top-down, each filled to zero)
  const shareSum = STRIPE_SHARES.reduce((s, v) => s + v, 0);
  const panels3 = [
    { total: A3_TOTAL, clones: A3_CLONES, bands: [[A3_QUINT, 'quint'], [A3_TRIPLE, 'triple'], [A3_GOFGOF, 'gofgof'], [A3_LOFLOF, 'loflof'], [A3_DIPDIP, 'dipdip']], top: 'dipgof' },
    { total: B3_TOTAL, clones: B3_CLONES, bands: [[B3_TRIPLE, 'triple'], [B3_GOFGOF, 'gofgof'], [B3_QUINT, 'quint'], [B3_LOFLOF, 'loflof'], [B3_DIPDIP, 'dipdip']], top: 'dipgof' },
    { total: C3_TOTAL, clones: C3_CLONES, bands: [[C3_DIPGOF, 'dipgof']], top: 'quad' },
    { total: D3_TOTAL, clones: D3_CLONES, bands: [[D3_TRIPLE, 'triple'], [D3_QUAD, 'quad'], [D3_QUINT, 'quint'], [D3_DIPGOF2, 'dipgof'], [D3_LOFLOF, 'loflof'], [D3_YELLOW, 'yellow'], [D3_INDIGO, 'indigo'], [D3_GOFGOF, 'gofgof'], [D3_GREEN2, 'triple'], [D3_DIPDIP, 'dipdip']], top: 'dipgof' },
    { total: E3_TOTAL, clones: E3_CLONES, bands: [[E3_TRIPLE, 'triple']], top: 'dipgof' },
  ];
  panels3.forEach((P: any, c) => {
    const g = 10 + c;
    const layers: any[] = [];
    let cum = T3.map(() => 0);
    const addLayer = (vals: number[], color: string, stripe: boolean) => {
      cum = cum.map((v, i) => v + vals[i]);
      layers.push({ top: cum.slice(), color, stripe });
    };
    STRIPE_SHARES.forEach((sh, k) => {
      addLayer(P.clones.map((v: number) => (v * sh) / shareSum), STRIPE_COLORS[k % STRIPE_COLORS.length], true);
    });
    const used = P.clones.slice();
    P.bands.forEach((b: any) => {
      addLayer(b[0], BAND_COLORS[b[1]], false);
      b[0].forEach((v: number, i: number) => { used[i] += v; });
    });
    addLayer(P.total.map((v: number, i: number) => Math.max(0, v - used[i])), BAND_COLORS[P.top], false);
    for (let k = layers.length - 1; k >= 0; k--) {
      const L = layers[k];
      series.push({
        type: 'line', xAxisIndex: xi(g), yAxisIndex: yi(g), silent: true, z: 2,
        data: L.top.map((v: number, i: number) => [T3[i], Math.min(5, v)]), smooth: 0.3, symbol: 'none', showSymbol: false,
        areaStyle: { color: L.color, opacity: 1, origin: 'start' },
        lineStyle: L.stripe ? { color: '#9b9686', width: 0.5 } : { color: L.color, width: 0.4 },
      });
    }
  });

  // ---- row 4
  const entLines = [ENT_LINE_A, ENT_LINE_B, ENT_LINE_C, ENT_LINE_D, ENT_LINE_E];
  const entDots = [ENT_DOT_A, ENT_DOT_B, ENT_DOT_C, ENT_DOT_D, ENT_DOT_E];
  for (let c = 0; c < 5; c++) {
    const g = 15 + c;
    series.push({
      type: 'line', xAxisIndex: xi(g), yAxisIndex: yi(g), silent: true, z: 3,
      data: entLines[c], smooth: 0.3, symbol: 'none', lineStyle: { color: '#111', width: 1 },
    });
    series.push({
      type: 'scatter', xAxisIndex: xi(g), yAxisIndex: yi(g), silent: true, z: 4,
      data: entDots[c].map((v, i) => [ENT_DOT_T[i], v]), symbol: 'circle', symbolSize: 8,
      itemStyle: { color: '#fff', borderColor: '#111', borderWidth: 0.8, opacity: 1 },
    });
  }

  // ---- legend boxes
  LEGEND_LABELS.forEach((lab, i) => {
    let x: number, y: number, w: number, h: number;
    if (i < 12) { x = 31 + 104 * i; y = 6; w = 102; h = 66; }
    else { x = [431, 581, 732][i - 12]; y = 80; w = 145; h = 66; }
    graphics.push({
      type: 'rect', shape: { x, y, width: w, height: h },
      style: { fill: LEGEND_COLORS[i], stroke: '#222', lineWidth: 1.5, shadowBlur: 3, shadowOffsetX: 2, shadowOffsetY: 2, shadowColor: 'rgba(0,0,0,0.4)' },
      z: 1,
    });
    graphics.push({
      type: 'text', z: 2,
      style: { x: x + w / 2, y: y + h / 2 + 1, text: lab, align: 'center', verticalAlign: 'middle', fontSize: 23, fontFamily: 'Liberation Sans', fill: '#000', lineHeight: 25 },
    });
  });

  // ---- titles, letters, offsets
  for (let c = 0; c < 5; c++) {
    const cx = COL_LEFT[c] + GW / 2;
    graphics.push({ type: 'text', z: 5, style: { x: cx, y: 165, text: 'Mean fitness', align: 'center', verticalAlign: 'middle', fontSize: 13.3, fontFamily: FONT, fill: '#000' } });
    graphics.push({ type: 'text', z: 5, style: { x: cx, y: 418, text: 'All genotypes', align: 'center', verticalAlign: 'middle', fontSize: 13.3, fontFamily: FONT, fill: '#000' } });
    graphics.push({ type: 'text', z: 5, style: { x: COL_LEFT[c] + 1, y: 164, text: '1e\u22121', align: 'left', verticalAlign: 'middle', fontSize: 11, lineHeight: 11, fontFamily: FONT, fill: '#000' } });
    graphics.push({ type: 'text', z: 5, style: { x: COL_LEFT[c] + 1, y: 673, text: '1e8', align: 'left', verticalAlign: 'middle', fontSize: 11, fontFamily: FONT, fill: '#000' } });
    graphics.push({ type: 'text', z: 5, style: { x: COL_LEFT[c] + 8, y: 203, text: PANEL_LETTERS[c], align: 'left', verticalAlign: 'middle', fontSize: 53, lineHeight: 36, fontFamily: 'Liberation Sans', fill: '#000' } });
  }

  return {
    animation: false,
    backgroundColor: '#fff',
    grid: grids,
    xAxis: xAxes,
    yAxis: yAxes,
    series,
    graphic: graphics,
  };
}

export default function App() {
  const ref = useRef<HTMLDivElement>(null);
  useEffect(() => {
    if (!ref.current) return;
    const chart = echarts.init(ref.current, undefined, { renderer: 'svg' });
    chart.setOption(buildOption() as any);
    return () => chart.dispose();
  }, []);
  return <div ref={ref} style={{ position: 'absolute', left: 0, top: 0, width: 1296, height: 1174, background: '#fff' }} />;
}
